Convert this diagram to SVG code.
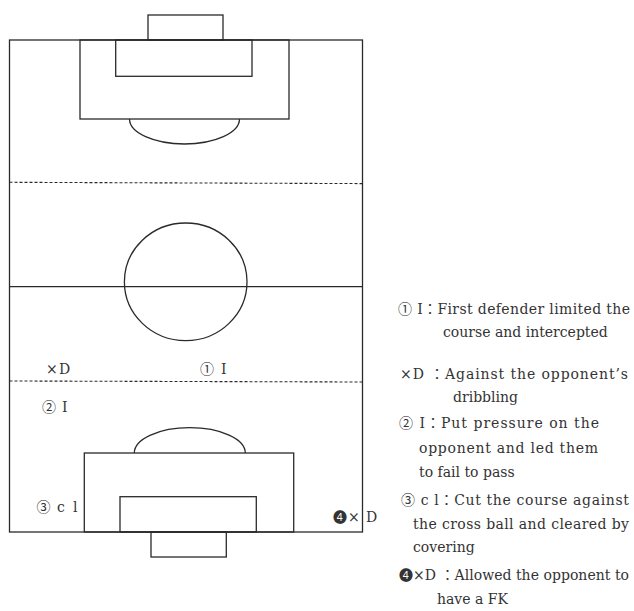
<svg xmlns="http://www.w3.org/2000/svg" width="634" height="611" viewBox="0 0 634 611">
<style>
.ln{fill:none;stroke:#2a2a2a;stroke-width:1.3}
.dash{fill:none;stroke:#2a2a2a;stroke-width:1.1;stroke-dasharray:3 2}
.t{font-family:"DejaVu Serif","Noto Sans CJK JP","DejaVu Sans",serif;font-size:14px;fill:#333}
</style>
<rect width="634" height="611" fill="#fff"/>
<g id="field">
<rect class="ln" x="9.5" y="40" width="353" height="492"/>
<rect class="ln" x="148" y="15" width="75" height="25"/>
<rect class="ln" x="80" y="40" width="209" height="79"/>
<rect class="ln" x="115.7" y="40" width="136.3" height="36.3"/>
<path class="ln" d="M129.5 119 A55 25 0 0 0 239.5 119"/>
<line class="dash" x1="9.5" y1="182.3" x2="362.5" y2="183.6"/>
<line class="ln" x1="9.5" y1="286.7" x2="362.5" y2="286.7"/>
<ellipse class="ln" cx="185.7" cy="281.8" rx="61.3" ry="58.8"/>
<line class="dash" x1="9.5" y1="381" x2="362.5" y2="382"/>
<path class="ln" d="M134.3 453 A55.5 25.3 0 0 1 245.3 453"/>
<rect class="ln" x="84.3" y="453" width="209.4" height="79"/>
<rect class="ln" x="120" y="496.7" width="136.3" height="35.3"/>
<rect class="ln" x="151" y="532" width="75.3" height="25"/>
</g>
<g id="field-labels" class="t">
<text id="lbl-xd"><tspan x="46" y="374">×</tspan><tspan x="59" y="374">D</tspan></text>
<text id="lbl-1i"><tspan x="200" y="374">①</tspan><tspan x="221" y="374">I</tspan></text>
<text id="lbl-2i"><tspan x="42" y="412">②</tspan><tspan x="62" y="412">I</tspan></text>
<text id="lbl-3cl"><tspan x="36.5" y="512">③</tspan><tspan x="57" y="512">c</tspan><tspan x="73" y="512">l</tspan></text>
<text id="lbl-4xd"><tspan x="333" y="522">❹</tspan><tspan x="348" y="522">×</tspan><tspan x="366" y="522">D</tspan></text>
</g>
<g id="legend" class="t">
<text x="398" y="314" textLength="232" lengthAdjust="spacing">① I：First defender limited the</text>
<text x="443" y="337">course and intercepted</text>
<text x="400" y="379" textLength="228" lengthAdjust="spacing">×D ：Against the opponent’s</text>
<text x="453" y="402">dribbling</text>
<text x="399" y="428" textLength="200" lengthAdjust="spacing">② I：Put pressure on the</text>
<text x="419" y="453" textLength="179" lengthAdjust="spacing">opponent and led them</text>
<text x="419" y="477">to fail to pass</text>
<text x="401" y="505" textLength="228" lengthAdjust="spacing">③ c l：Cut the course against</text>
<text x="413" y="529" textLength="216" lengthAdjust="spacing">the cross ball and cleared by</text>
<text x="413" y="552">covering</text>
<text x="399" y="580" textLength="230" lengthAdjust="spacing">❹×D ：Allowed the opponent to</text>
<text x="437" y="604">have a FK</text>
</g>
</svg>
